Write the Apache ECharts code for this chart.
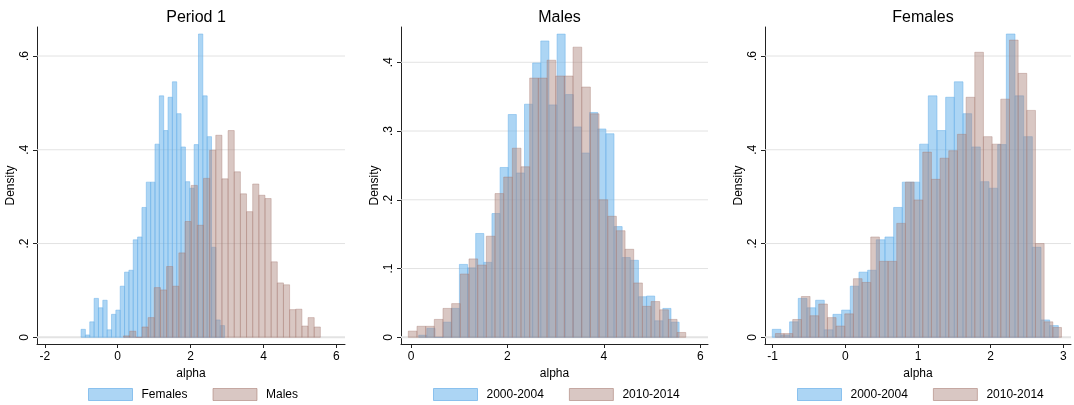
<!DOCTYPE html>
<html><head><meta charset="utf-8">
<script src="https://cdn.jsdelivr.net/npm/echarts@6/dist/echarts.min.js"></script>
<style>html,body{margin:0;padding:0;background:#fff}#c{width:1074px;height:405px}</style>
</head><body><div id="c"></div><script>
// ---------- data ----------
const panelTitles = ['Period 1', 'Males', 'Females'];
const legendPeriod = ['Females', 'Males'];
const legendYears = ['2000-2004', '2010-2014'];
const xTicks1 = [-2, 0, 2, 4, 6];
const xTicks2 = [0, 2, 4, 6];
const xTicks3 = [-1, 0, 1, 2, 3];
const yTicks1 = [0, 0.2, 0.4, 0.6];
const yTicks2 = [0, 0.1, 0.2, 0.3, 0.4];
const yTicks3 = [0, 0.2, 0.4, 0.6];

// Females 2000-2004 (also "Females" in Period 1)
const femA_start = -1.005, femA_width = 0.1193;
const femA = [0.017, 0.005, 0.033, 0.083, 0.063, 0.079, 0.016, 0.049, 0.058, 0.109, 0.139, 0.143, 0.208, 0.214, 0.277, 0.331, 0.331, 0.412, 0.515, 0.441, 0.512, 0.545, 0.477, 0.406, 0.332, 0.318, 0.411, 0.647, 0.515, 0.428, 0.192, 0.037, 0.025];
// Females 2010-2014
const femB_start = -0.962, femB_width = 0.1193;
const femB = [0.008, 0.008, 0.038, 0.087, 0.046, 0.071, 0.042, 0.024, 0.05, 0.125, 0.117, 0.214, 0.162, 0.162, 0.243, 0.331, 0.293, 0.395, 0.337, 0.382, 0.398, 0.433, 0.512, 0.608, 0.428, 0.412, 0.508, 0.634, 0.563, 0.484, 0.2, 0.033, 0.021];
// Males 2000-2004 (also "Males" in Period 1)
const malA_start = 0.160, malA_width = 0.16875;
const malA = [0.003, 0.013, 0, 0.022, 0.042, 0.106, 0.101, 0.151, 0.109, 0.18, 0.247, 0.324, 0.239, 0.339, 0.399, 0.431, 0.338, 0.441, 0.353, 0.306, 0.268, 0.327, 0.303, 0.296, 0.161, 0.116, 0.112, 0.059, 0.06, 0.024, 0.042, 0.022];
// Males 2010-2014
const malB_start = -0.056, malB_width = 0.1798;
const malB = [0.009, 0.016, 0.016, 0.026, 0.042, 0.049, 0.092, 0.114, 0.105, 0.147, 0.209, 0.233, 0.275, 0.248, 0.377, 0.377, 0.403, 0.38, 0.38, 0.422, 0.364, 0.325, 0.2, 0.176, 0.155, 0.128, 0.079, 0.045, 0.052, 0.04, 0.026, 0.007];

// ---------- styling ----------
const FONT = 'Liberation Sans, Arial, Helvetica, sans-serif';
const blueFill = 'rgba(112,182,236,0.58)', blueStroke = 'rgba(105,175,232,0.7)';
const brownFill = 'rgba(175,135,128,0.47)', brownStroke = 'rgba(165,120,112,0.55)';
const axisCol = '#222';

function hist(start, width, heights) {
  return heights.map((h, i) => [start + i * width, start + (i + 1) * width, h]);
}
function yFmt(v) { return v === 0 ? '0' : String(+v.toFixed(2)).replace(/^0\./, '.').replace(/^-0\./, '-.'); }

const panels = [
  {grid: {left: 37, width: 308}, x: [-2.214, 6.236], y: [-0.01429, 0.6619], xt: xTicks1, yt: yTicks1,
   A: hist(femA_start, femA_width, femA), B: hist(malA_start, malA_width, malA), names: legendPeriod, legLeft: 88},
  {grid: {left: 401, width: 307}, x: [-0.2074, 6.159], y: [-0.00975, 0.4513], xt: xTicks2, yt: yTicks2,
   A: hist(malA_start, malA_width, malA), B: hist(malB_start, malB_width, malB), names: legendYears, legLeft: 433},
  {grid: {left: 765, width: 306}, x: [-1.105, 3.106], y: [-0.01429, 0.6619], xt: xTicks3, yt: yTicks3,
   A: hist(femA_start, femA_width, femA), B: hist(femB_start, femB_width, femB), names: legendYears, legLeft: 797}
];

function barRenderer(fill, stroke) {
  return function (params, api) {
    const p0 = api.coord([api.value(0), api.value(2)]);
    const p1 = api.coord([api.value(1), 0]);
    return {type: 'rect', shape: {x: p0[0], y: p0[1], width: p1[0] - p0[0], height: p1[1] - p0[1]},
            style: {fill: fill, stroke: stroke, lineWidth: 0.7}};
  };
}

const option = {animation: false, backgroundColor: '#fff', title: [], grid: [], xAxis: [], yAxis: [], series: [], legend: []};
panels.forEach((p, k) => {
  option.grid.push({left: p.grid.left, width: p.grid.width, top: 27, height: 317});
  option.title.push({text: panelTitles[k], left: p.grid.left + p.grid.width / 2, textAlign: 'center', top: 5,
    textStyle: {fontFamily: FONT, fontSize: 16, fontWeight: 'normal', color: '#000'}});
  option.xAxis.push({type: 'value', gridIndex: k, min: p.x[0], max: p.x[1],
    name: 'alpha', nameLocation: 'middle', nameGap: 21, nameTextStyle: {fontFamily: FONT, fontSize: 12, color: '#000'},
    axisLine: {show: true, onZero: false, lineStyle: {color: axisCol, width: 1}},
    axisTick: {show: true, length: 4, customValues: p.xt, lineStyle: {color: axisCol}},
    axisLabel: {customValues: p.xt, fontFamily: FONT, fontSize: 12, color: '#000', margin: 7},
    splitLine: {show: false}});
  option.yAxis.push({type: 'value', gridIndex: k, min: p.y[0], max: p.y[1],
    name: 'Density', nameLocation: 'middle', nameGap: 20, nameTextStyle: {fontFamily: FONT, fontSize: 12, color: '#000'},
    axisLine: {show: true, onZero: false, lineStyle: {color: axisCol, width: 1}},
    axisTick: {show: true, length: 4, customValues: p.yt, lineStyle: {color: axisCol}},
    axisLabel: {customValues: p.yt, rotate: 90, fontFamily: FONT, fontSize: 12, color: '#000', margin: 6, formatter: yFmt},
    splitLine: {show: false}});
  // gridlines
  option.series.push({type: 'custom', xAxisIndex: k, yAxisIndex: k, silent: true, z: 1,
    data: p.yt.map(v => [v]), encode: {y: 0},
    renderItem: function (params, api) {
      const v = api.value(0);
      const a = api.coord([p.x[0], v]), b = api.coord([p.x[1], v]);
      return {type: 'line', shape: {x1: a[0], y1: a[1], x2: b[0], y2: b[1]}, style: {stroke: '#e3e3e3', lineWidth: v === 0 ? 2 : 1}};
    }});
  option.series.push({type: 'custom', name: p.names[0], xAxisIndex: k, yAxisIndex: k, z: 2,
    itemStyle: {color: blueFill}, data: p.A, encode: {x: [0, 1], y: 2}, renderItem: barRenderer(blueFill, blueStroke)});
  option.series.push({type: 'custom', name: p.names[1], xAxisIndex: k, yAxisIndex: k, z: 3,
    itemStyle: {color: brownFill}, data: p.B, encode: {x: [0, 1], y: 2}, renderItem: barRenderer(brownFill, brownStroke)});
  option.legend.push({left: p.legLeft, top: 388, padding: 0, itemWidth: 44, itemHeight: 12, itemGap: 25,
    icon: 'rect', selectedMode: false,
    textStyle: {fontFamily: FONT, fontSize: 12, color: '#000', padding: [0, 0, 0, 4]},
    data: [{name: p.names[0], itemStyle: {color: blueFill, borderColor: blueStroke, borderWidth: 1}},
           {name: p.names[1], itemStyle: {color: brownFill, borderColor: brownStroke, borderWidth: 1}}]});
});

const chart = echarts.init(document.getElementById('c'), null, {renderer: 'canvas'});
chart.setOption(option);
</script></body></html>
